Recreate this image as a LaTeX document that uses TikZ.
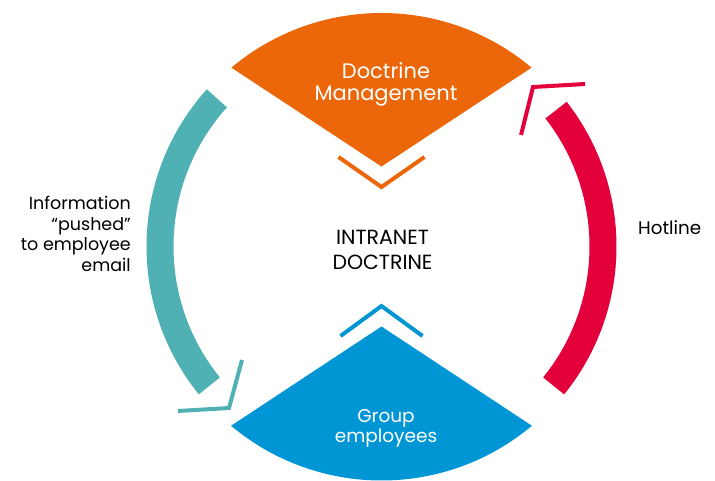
\documentclass[tikz,border=0pt]{standalone}
\usepackage{fontspec}
\setmainfont{Poppins}
\usetikzlibrary{calc}
\definecolor{docorange}{RGB}{236,103,10}
\definecolor{grpblue}{RGB}{0,150,213}
\definecolor{pushteal}{RGB}{80,177,180}
\definecolor{hotred}{RGB}{227,0,59}

\begin{document}
\begin{tikzpicture}[line join=miter, x=1pt, y=1pt,
    chev/.style={line width=4pt},
    lbl/.style={font=\fontsize{17.5}{20.7}\selectfont, align=center, inner sep=0pt}]
  \useasboundingbox (-381.5,-233.5) rectangle (333.5,246.5);
  \coordinate (C) at (0,0);
  \coordinate (Top) at (0,80);
  \coordinate (Bot) at (0,-80);
  % sectors
  \fill[docorange] (Top) -- ($(C)+(130:233.5)$) arc[start angle=130, end angle=50, radius=233.5] -- cycle;
  \fill[grpblue] (Bot) -- ($(C)+(-130:234)$) arc[start angle=-130, end angle=-50, radius=234] -- cycle;
  % ring
  \fill[pushteal] ($(C)+(138:235)$) arc[start angle=138, end angle=219, radius=235]
    -- ($(C)+(219:208)$) arc[start angle=219, end angle=138, radius=208] -- cycle;
  \fill[hotred] ($(C)+(-39:235)$) arc[start angle=-39, end angle=38, radius=235]
    -- ($(C)+(38:208)$) arc[start angle=38, end angle=-39, radius=208] -- cycle;
  % chevrons
  \draw[chev, docorange] (-43,89.5) -- (0,59.5) -- (43,89.5);
  \draw[chev, grpblue] (-41,-89.5) -- (0,-59.5) -- (41,-89.5);
  \draw[chev, pushteal] (-139.5,-113.5) -- (-152.5,-161.5) -- (-203.5,-164.5);
  \draw[chev, hotred] (203.5,162.5) -- (151.5,159.5) -- (139.5,111.5);
  % labels
  \node[lbl, text=white, font=\fontsize{21}{22}\selectfont] (mgmt) at (4.5,162.5) {Doctrine\\Management};
  \node[lbl, text=white, font=\fontsize{18.5}{20}\selectfont] (staff) at (4.5,-181.5) {Group\\employees};
  \node[lbl, font=\fontsize{20.5}{25}\selectfont] (intra) at (1,-3) {INTRANET\\DOCTRINE};
  \node[lbl, align=right, anchor=east] (push) at (-250.5,12.5) {Information\\“pushed”\\to employee\\email};
  \node[lbl, anchor=west, font=\fontsize{18.3}{20}\selectfont] (hot) at (256.5,18.5) {Hotline};
\end{tikzpicture}
\end{document}
